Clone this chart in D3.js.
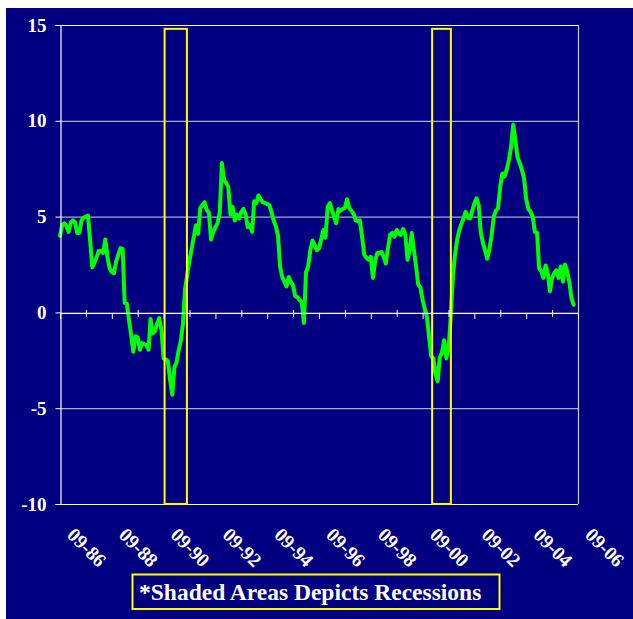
<!DOCTYPE html>
<html>
<head>
<meta charset="utf-8">
<script src="https://cdn.jsdelivr.net/npm/d3@7"></script>
<style>
  html, body { margin: 0; padding: 0; background: #ffffff; }
  svg { display: block; }
</style>
</head>
<body>
<svg id="chart" width="633" height="619"></svg>
<script>
// Monthly series, first value is September 1986
const seriesStart = "1986-09-01";
const growth = [
  4.0, 4.55, 4.65, 4.5, 4.2, 4.7, 4.8, 4.7, 4.15, 4.15, 4.8, 4.95,
  5.0, 5.05, 3.7, 2.35, 2.6, 2.9, 3.2, 3.2, 3.1, 3.8, 2.9, 2.3,
  2.1, 2.05, 2.65, 3.0, 3.35, 3.3, 0.5, 0.45, -0.4, -1.2, -2.05, -1.25,
  -1.3, -1.95, -1.6, -1.65, -1.7, -1.95, -0.35, -1.1, -1.0, -0.6, -0.3, -0.9,
  -2.4, -2.45, -2.55, -3.5, -4.3, -2.85, -2.65, -2.0, -1.5, -0.6, 1.2, 2.0,
  2.7, 3.3, 3.95, 4.55, 4.1, 5.45, 5.6, 5.75, 5.35, 5.2, 3.8, 4.2,
  4.45, 4.65, 5.2, 7.8, 6.9, 6.75, 6.55, 5.1, 5.5, 4.8, 5.1, 4.9,
  5.25, 5.4, 5.1, 4.45, 4.55, 4.2, 5.8, 5.7, 6.1, 5.9, 5.75, 5.7,
  5.65, 5.6, 5.25, 4.8, 4.5, 4.0, 2.4, 1.85, 1.6, 1.35, 1.85, 1.6,
  1.4, 0.85, 0.8, 0.65, 0.55, -0.55, 2.1, 2.4, 3.25, 3.75, 3.5, 3.25,
  3.35, 3.8, 4.3, 3.9, 5.5, 5.7, 5.35, 5.0, 4.65, 5.4, 5.3, 5.4,
  5.45, 5.9, 5.45, 5.3, 5.15, 4.8, 4.75, 4.8, 3.95, 3.0, 2.85, 2.75,
  2.9, 1.8, 2.65, 3.1, 3.1, 3.15, 2.9, 2.55, 3.35, 4.05, 4.15, 3.95,
  4.3, 4.1, 4.05, 4.35, 4.05, 2.75, 3.25, 4.15, 3.25, 2.4, 1.45, 1.3,
  0.65, 0.2, -0.25, -1.3, -2.3, -2.4, -3.2, -3.6, -2.35, -2.1, -1.45, -2.4,
  -1.9, -0.3, 1.8, 3.0, 3.8, 4.3, 4.6, 4.9, 5.25, 4.95, 4.9, 5.3,
  5.7, 5.95, 5.6, 4.15, 3.6, 3.2, 2.8, 3.3, 4.0, 5.0, 5.3, 5.45,
  6.6, 7.25, 7.1, 7.45, 7.95, 8.65, 9.8, 9.0, 8.1, 7.8, 7.45, 7.0,
  5.9, 5.4, 5.25, 5.0, 4.2, 4.15, 2.3, 2.15, 1.8, 2.45, 2.05, 1.1,
  1.8, 2.05, 2.2, 1.8, 2.4, 1.6, 2.5, 2.15, 1.6, 0.75, 0.4
];

const yTicks = [-10, -5, 0, 5, 10, 15];
const xTickLabels = ["09-86", "09-88", "09-90", "09-92", "09-94", "09-96",
                     "09-98", "09-00", "09-02", "09-04", "09-06"];

// Recession periods (start / end dates) and the box top value
const recessionStarts = ["1990-09-15", "2001-01-13"];
const recessionEnds = ["1991-07-27", "2001-10-04"];
const recessionTop = 14.8;

const legendText = "*Shaded Areas Depicts Recessions";

const navy = "#000080";
const gridColor = "#d4d4dc";
const serif = "'Liberation Serif', 'Times New Roman', serif";

const svg = d3.select("#chart");
const parse = d3.utcParse("%Y-%m-%d");
const start = parse(seriesStart);
const end = d3.utcMonth.offset(start, 240);

const x = d3.scaleUtc().domain([start, end]).range([60, 578]);
const y = d3.scaleLinear().domain([-10, 15]).range([504, 25]);

const points = growth.map((v, i) => ({ date: d3.utcMonth.offset(start, i), value: v }));

// Background panel
svg.append("rect")
  .attr("x", 6).attr("y", 8).attr("width", 627).attr("height", 611)
  .attr("fill", navy);

// Horizontal gridlines
svg.append("g")
  .selectAll("line")
  .data(yTicks.filter(t => t !== 0))
  .join("line")
  .attr("x1", x.range()[0]).attr("x2", x.range()[1])
  .attr("y1", d => y(d) + 0.5).attr("y2", d => y(d) + 0.5)
  .attr("stroke", d => (d === 15 || d === -10) ? "#ffffff" : gridColor)
  .attr("stroke-width", 1);

// Right border of the plot
svg.append("line")
  .attr("x1", x.range()[1] + 0.5).attr("x2", x.range()[1] + 0.5)
  .attr("y1", y(15)).attr("y2", y(-10))
  .attr("stroke", "#c8c8d0").attr("stroke-width", 1.2);

// Data line
const line = d3.line()
  .x(d => x(d.date))
  .y(d => y(d.value));

svg.append("path")
  .datum(points)
  .attr("d", line)
  .attr("fill", "none")
  .attr("stroke", "#00ff00")
  .attr("stroke-width", 4)
  .attr("stroke-linejoin", "round")
  .attr("stroke-linecap", "round");

// Recession boxes
svg.append("g")
  .selectAll("rect")
  .data(recessionStarts.map((s, i) => ({ s: parse(s), e: parse(recessionEnds[i]) })))
  .join("rect")
  .attr("x", d => x(d.s))
  .attr("y", y(recessionTop))
  .attr("width", d => x(d.e) - x(d.s))
  .attr("height", y(-10) - y(recessionTop))
  .attr("fill", "none")
  .attr("stroke", "#ffff00")
  .attr("stroke-width", 2);

// Y axis
const yAxis = svg.append("g")
  .attr("transform", `translate(${x.range()[0] + 0.5},0)`)
  .call(d3.axisLeft(y).tickValues(yTicks).tickSize(5).tickPadding(9).tickFormat(d => String(d)));
yAxis.select(".domain").attr("stroke", "#ffffff").attr("stroke-width", 1.2);
yAxis.selectAll(".tick line").attr("stroke", "#ffffff");
yAxis.selectAll(".tick text")
  .attr("fill", "#ffffff")
  .attr("font-family", serif)
  .attr("font-weight", "bold")
  .attr("font-size", 19);

// X axis along the zero line, one tick per year
const tickDates = d3.range(21).map(i => d3.utcMonth.offset(start, 12 * i));
const xAxis = svg.append("g")
  .attr("transform", `translate(0,${y(0) + 0.5})`)
  .call(d3.axisBottom(x).tickValues(tickDates).tickSizeInner(6).tickSizeOuter(0).tickFormat(""));
xAxis.select(".domain").attr("stroke", "#ffffff").attr("stroke-width", 1.2);
xAxis.selectAll(".tick line")
  .attr("stroke", "#ffffff")
  .attr("y1", (d, i) => i % 2 ? -3 : 0)
  .attr("y2", (d, i) => i % 2 ? 4 : 6);

// Rotated year labels every two years
svg.append("g")
  .selectAll("text")
  .data(xTickLabels)
  .join("text")
  .attr("transform", (d, i) => `translate(${x(tickDates[2 * i]) + 6},536) rotate(45)`)
  .attr("fill", "#ffffff")
  .attr("font-family", serif)
  .attr("font-weight", "bold")
  .attr("font-size", 19.5)
  .text(d => d);

// Legend note
svg.append("rect")
  .attr("x", 132.5).attr("y", 574.5).attr("width", 367).attr("height", 34.5)
  .attr("fill", "none").attr("stroke", "#ffff00").attr("stroke-width", 2);
svg.append("text")
  .attr("x", 139).attr("y", 600)
  .attr("fill", "#ffffff")
  .attr("font-family", serif)
  .attr("font-weight", "bold")
  .attr("font-size", 23.5)
  .text(legendText);
</script>
</body>
</html>
